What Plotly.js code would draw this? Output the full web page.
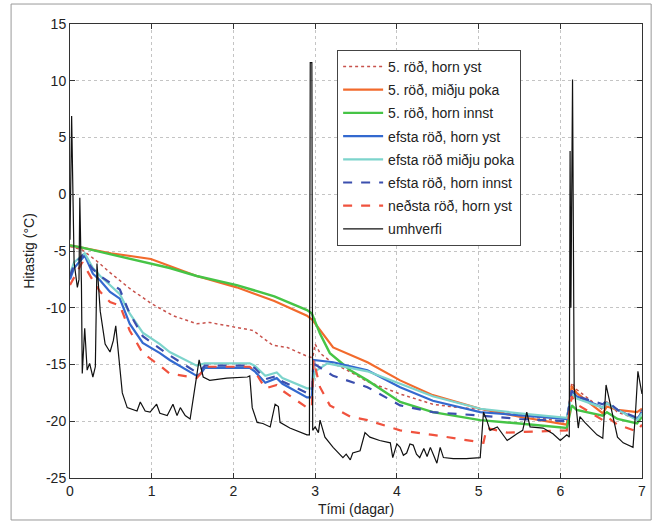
<!DOCTYPE html>
<html>
<head>
<meta charset="utf-8">
<script src="https://cdn.plot.ly/plotly-3.0.1.min.js"></script>
<style>html,body{margin:0;padding:0;background:#fff;}#chart{width:657px;height:526px;}</style>
</head>
<body>
<div id="chart"></div>
<script>
// Series names (legend labels)
const seriesNames = ["5. röð, horn yst","5. röð, miðju poka","5. röð, horn innst","efsta röð, horn yst","efsta röð miðju poka","efsta röð, horn innst","neðsta röð, horn yst","umhverfi"];

// 5. röð, horn yst (red dotted)
const tDotRed = [0,0.15,0.33,0.49,0.73,0.99,1.26,1.55,1.71,2.04,2.24,2.48,2.66,2.91,2.97,3.0,3.06,3.22,3.39,3.64,4.04,4.44,4.65,5.06,5.5,6.08,6.14,6.2,6.52,6.57,6.7,6.94,7.0];
const vDotRed = [-4.6,-4.9,-5.9,-6.9,-8.3,-9.6,-10.7,-11.4,-11.3,-11.7,-12.0,-13.3,-13.5,-14.3,-14.4,-13.2,-14.0,-14.9,-15.5,-16.5,-17.6,-18.5,-18.7,-19.0,-19.4,-20.1,-16.6,-17.2,-19.0,-18.3,-19.2,-19.8,-19.0];

// 5. röð, miðju poka (orange)
const tOrange = [0,0.2,0.5,0.99,1.22,1.55,2.04,2.5,2.90,2.97,3.22,3.64,4.04,4.44,5.02,5.5,6.08,6.14,6.2,6.52,6.57,6.7,6.94,7.0];
const vOrange = [-4.5,-4.8,-5.2,-5.7,-6.3,-7.2,-8.2,-9.4,-10.7,-11.1,-13.5,-14.8,-16.4,-17.7,-18.9,-19.6,-20.3,-16.9,-17.5,-19.3,-18.7,-19.0,-19.2,-18.9];

// 5. röð, horn innst (green)
const tGreen = [0,0.15,0.5,1.0,1.22,1.55,2.04,2.5,2.90,2.96,3.06,3.18,3.43,3.64,4.04,4.44,5.02,5.5,6.08,6.14,6.2,6.52,6.57,6.7,6.94,7.0];
const vGreen = [-4.5,-4.7,-5.3,-6.1,-6.5,-7.2,-8.0,-9.0,-10.2,-10.5,-12.3,-14.0,-15.5,-16.4,-18.3,-19.2,-19.9,-20.2,-20.6,-18.6,-19.0,-19.5,-19.2,-19.8,-20.2,-19.6];

// efsta röð, horn yst (blue)
const tBlue = [0,0.05,0.18,0.28,0.37,0.49,0.61,0.73,0.89,1.10,1.22,1.55,1.6,1.65,2.20,2.26,2.39,2.53,2.6,2.90,2.96,2.98,3.22,3.64,4.04,4.44,5.02,5.5,6.08,6.14,6.2,6.52,6.57,6.7,6.94,7.0];
const vBlue = [-7.5,-6.5,-5.4,-7.0,-7.6,-8.6,-9.2,-11.4,-13.1,-14.0,-14.6,-16.0,-15.8,-15.3,-15.3,-15.6,-16.6,-16.2,-16.7,-17.9,-17.9,-14.6,-14.8,-15.5,-17.0,-18.2,-19.2,-19.5,-19.8,-17.3,-17.8,-18.8,-18.4,-19.0,-19.8,-19.2];

// efsta röð miðju poka (cyan)
const tCyan = [0,0.05,0.18,0.28,0.37,0.49,0.61,0.73,0.89,1.10,1.22,1.55,1.6,1.65,2.20,2.26,2.39,2.53,2.6,2.90,2.96,3.0,3.15,3.64,4.04,4.44,5.02,5.5,6.08,6.14,6.2,6.52,6.57,6.7,6.94,7.0];
const vCyan = [-7.0,-6.0,-5.2,-6.5,-7.2,-8.0,-8.8,-10.5,-12.2,-13.2,-13.9,-15.1,-15.0,-14.9,-14.9,-15.1,-16.0,-15.7,-16.2,-17.1,-17.1,-15.6,-14.9,-15.6,-16.7,-17.8,-18.9,-19.3,-19.7,-17.6,-18.0,-18.8,-18.4,-19.0,-19.9,-19.3];

// efsta röð, horn innst (blue dashed)
const tBlueDash = [0,0.05,0.15,0.28,0.37,0.49,0.61,0.73,0.89,1.10,1.22,1.55,1.6,1.65,2.20,2.26,2.39,2.53,2.6,2.90,2.96,2.98,3.0,3.22,3.64,4.04,4.44,5.02,5.5,6.08,6.14,6.2,6.52,6.57,6.7,6.94,7.0];
const vBlueDash = [-7.2,-6.2,-5.4,-6.6,-7.2,-7.8,-8.4,-10.5,-12.5,-13.6,-14.2,-15.7,-15.5,-15.1,-15.1,-15.3,-16.3,-16.0,-16.5,-17.5,-17.5,-14.5,-15.0,-16.0,-17.0,-18.6,-19.2,-19.5,-19.8,-20.0,-17.3,-17.8,-18.5,-18.2,-19.0,-19.7,-19.0];

// neðsta röð, horn yst (red dashed)
const tRedDash = [0,0.05,0.15,0.28,0.37,0.49,0.61,0.73,0.89,1.10,1.22,1.55,1.6,1.65,2.20,2.26,2.39,2.53,2.6,2.90,2.96,2.98,3.06,3.18,3.43,3.64,4.04,4.44,5.02,5.06,5.10,5.35,6.08,6.14,6.2,6.52,6.57,6.7,6.94,7.0];
const vRedDash = [-8.0,-7.3,-6.0,-7.6,-8.6,-9.5,-9.8,-12.0,-14.0,-15.1,-15.8,-16.2,-15.8,-15.2,-15.2,-15.6,-17.1,-16.8,-17.3,-18.8,-18.8,-14.6,-17.0,-18.6,-19.6,-19.9,-20.8,-21.2,-21.8,-21.9,-20.6,-21.0,-20.8,-17.8,-18.5,-19.9,-19.6,-20.3,-20.9,-20.3];

// umhverfi (black)
const tAmb = [0,0.02,0.05,0.09,0.11,0.12,0.14,0.15,0.18,0.21,0.24,0.28,0.31,0.33,0.37,0.43,0.49,0.53,0.56,0.59,0.64,0.70,0.82,0.86,0.92,0.98,1.06,1.10,1.19,1.26,1.31,1.35,1.41,1.47,1.51,1.55,1.58,1.63,1.71,1.92,2.17,2.20,2.23,2.29,2.36,2.45,2.51,2.55,2.57,2.69,2.82,2.90,2.93,2.94,2.96,2.97,3.00,3.04,3.06,3.12,3.22,3.34,3.38,3.43,3.46,3.55,3.61,3.67,3.79,3.92,3.95,4.00,4.04,4.08,4.12,4.16,4.20,4.24,4.28,4.33,4.37,4.41,4.45,4.49,4.53,4.57,4.69,4.85,5.02,5.06,5.10,5.14,5.23,5.35,5.47,5.54,5.59,5.63,5.79,5.91,6.00,6.08,6.11,6.12,6.13,6.15,6.17,6.22,6.24,6.30,6.45,6.52,6.56,6.61,6.70,6.77,6.89,6.92,6.95,7.0];
const vAmb = [-4,6.9,-6,-8.2,-7.5,-0.3,-8,-15.8,-11.8,-15.5,-14.9,-16.1,-15.2,-6.1,-10.3,-13.2,-13.9,-12.9,-11.6,-14.0,-17.5,-18.8,-19.1,-18.3,-19.1,-19.2,-18.5,-19.3,-19.5,-18.5,-19.5,-18.8,-19.5,-19.8,-17.9,-15.8,-14.6,-16.1,-16.4,-16.2,-16.1,-16.0,-18.8,-20.1,-20.2,-20.5,-18.5,-18.7,-20.1,-20.6,-21.0,-21.2,-21.2,11.6,11.6,-20.8,-20.5,-21.0,-19.9,-21.4,-22.3,-23.2,-22.9,-23.4,-22.8,-22.6,-21.0,-21.4,-21.7,-21.9,-23.2,-22.0,-22.3,-23.0,-22.8,-22.0,-22.1,-22.9,-23.2,-22.4,-23.1,-22.3,-23.0,-23.7,-22.3,-23.2,-23.3,-23.3,-23.2,-19.2,-19.9,-20.8,-20.5,-21.7,-21.1,-20.8,-19.2,-20.5,-20.6,-21.1,-21.7,-21.2,-21.4,3.8,-10,10.1,-17,-20.6,-19.6,-20.1,-21.2,-21.5,-16.8,-18.4,-21.4,-21.9,-22.3,-19.3,-15.6,-17.6];

const xTicks = [0,1,2,3,4,5,6,7];
const yTicks = [-25,-20,-15,-10,-5,0,5,10,15];
const yTickText = ["-25","-20","-15","-10","-5","0","5","10","15"];
const xLabel = "Tími (dagar)";
const yLabel = "Hitastig (°C)";

const xs = [tDotRed,tOrange,tGreen,tBlue,tCyan,tBlueDash,tRedDash,tAmb];
const ys = [vDotRed,vOrange,vGreen,vBlue,vCyan,vBlueDash,vRedDash,vAmb];
const styles = [
  {color:'#c8524c', width:1.5, dash:'dot'},
  {color:'#f26a2c', width:2.2, dash:'solid'},
  {color:'#46c446', width:2.4, dash:'solid'},
  {color:'#3369cf', width:2.2, dash:'solid'},
  {color:'#7dd4cc', width:2.2, dash:'solid'},
  {color:'#3b4fae', width:2.2, dash:'dash'},
  {color:'#f0523e', width:2.2, dash:'dash'},
  {color:'#111111', width:1.2, dash:'solid'}
];

const traces = seriesNames.map((n,i)=>({
  x: xs[i], y: ys[i], name: n, type:'scatter', mode:'lines',
  line: styles[i], legendgroup: 'g'+i
}));

const font = {family:'Arial, "Liberation Sans", sans-serif', size:14, color:'#222'};
const axisCommon = {
  showline:true, linecolor:'#333', linewidth:1, mirror:'ticks',
  ticks:'inside', ticklen:5, tickcolor:'#333',
  showgrid:true, gridcolor:'#c4c4c4', griddash:'dot', gridwidth:1,
  zeroline:false, tickfont:font
};

const layout = {
  width:657, height:526,
  margin:{l:70, r:15, t:24, b:48},
  paper_bgcolor:'#fff', plot_bgcolor:'#fff',
  font: font,
  showlegend:true,
  legend:{x:0.467, y:0.943, xanchor:'left', yanchor:'top',
    bgcolor:'#fff', bordercolor:'#444', borderwidth:1,
    font:font, tracegroupgap:2, traceorder:'grouped', itemwidth:40},
  xaxis: Object.assign({}, axisCommon, {range:[0,7], tickvals:xTicks,
    title:{text:xLabel, font:font, standoff:6}}),
  yaxis: Object.assign({}, axisCommon, {range:[-25,15], tickvals:yTicks, ticktext:yTickText,
    title:{text:yLabel, font:font, standoff:8}}),
  shapes:[{type:'rect', xref:'paper', yref:'paper', x0:-0.103, x1:1.016, y0:-0.0925, y1:1.044,
    line:{color:'#999', width:1}, fillcolor:'rgba(0,0,0,0)', layer:'below'}]
};

Plotly.newPlot('chart', traces, layout, {displayModeBar:false, staticPlot:true});
</script>
</body>
</html>
